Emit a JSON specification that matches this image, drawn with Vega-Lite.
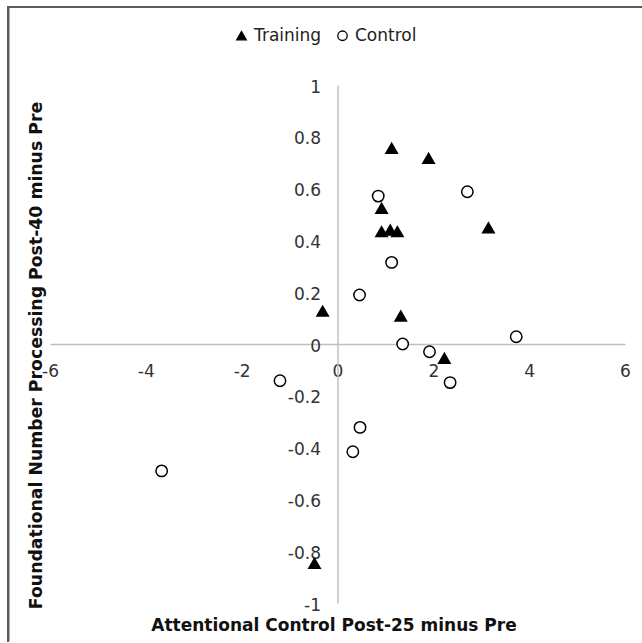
{
  "$schema": "https://vega.github.io/schema/vega-lite/v6.json",
  "autosize": {"type": "none"},
  "padding": {"left": 50, "top": 85, "right": 17, "bottom": 40},
  "width": 575,
  "height": 518,
  "background": "white",
  "config": {"view": {"stroke": null}, "font": "DejaVu Sans"},
  "data": {"values": [
    {"group": "Training", "x": 1.13, "y": 0.756},
    {"group": "Training", "x": 1.90, "y": 0.717},
    {"group": "Training", "x": 0.92, "y": 0.524},
    {"group": "Training", "x": 0.92, "y": 0.434},
    {"group": "Training", "x": 1.10, "y": 0.44},
    {"group": "Training", "x": 1.25, "y": 0.434},
    {"group": "Training", "x": 3.15, "y": 0.449},
    {"group": "Training", "x": -0.31, "y": 0.127},
    {"group": "Training", "x": 1.32, "y": 0.108},
    {"group": "Training", "x": 2.23, "y": -0.055},
    {"group": "Training", "x": -0.48, "y": -0.847},
    {"group": "Control", "x": 0.85, "y": 0.571},
    {"group": "Control", "x": 2.71, "y": 0.588},
    {"group": "Control", "x": 1.13, "y": 0.315},
    {"group": "Control", "x": 0.46, "y": 0.189},
    {"group": "Control", "x": 3.73, "y": 0.028},
    {"group": "Control", "x": 1.36, "y": 0.0},
    {"group": "Control", "x": 1.92, "y": -0.03},
    {"group": "Control", "x": 2.35, "y": -0.149},
    {"group": "Control", "x": -1.20, "y": -0.142},
    {"group": "Control", "x": 0.47, "y": -0.322},
    {"group": "Control", "x": 0.32, "y": -0.416},
    {"group": "Control", "x": -3.67, "y": -0.49}
  ]},
  "layer": [
    {
      "mark": {"type": "rule", "stroke": "#5a5a5a", "strokeWidth": 2, "clip": false},
      "encoding": {
        "x": {"datum": -6.876, "type": "quantitative", "scale": {"domain": [-6, 6], "nice": false, "zero": false}},
        "y": {"datum": 1.305, "type": "quantitative", "scale": {"domain": [-1, 1], "nice": false, "zero": false}},
        "y2": {"datum": -1.15}
      }
    },
    {
      "mark": {"type": "rule", "stroke": "#5a5a5a", "strokeWidth": 2, "clip": false},
      "encoding": {
        "x": {"datum": -6.896, "type": "quantitative"},
        "x2": {"datum": 6.35},
        "y": {"datum": 1.301, "type": "quantitative"}
      }
    },
    {
      "mark": {"type": "point", "stroke": "black", "strokeWidth": 1.5, "opacity": 1, "filled": false},
      "encoding": {
        "x": {
          "field": "x", "type": "quantitative",
          "scale": {"domain": [-6, 6], "nice": false, "zero": false},
          "axis": {
            "title": "Attentional Control Post-25 minus Pre",
            "offset": -259,
            "values": [-6, -4, -2, 0, 2, 4, 6],
            "labelExpr": "toString(datum.value)",
            "grid": false, "ticks": false, "tickSize": 0,
            "domainColor": "#c0c0c0", "domainWidth": 1.5,
            "labelFontSize": 17, "labelColor": "#333333", "labelPadding": 19,
            "labelFlush": false,
            "titleFontSize": 17, "titleFontWeight": "bold", "titleColor": "#111111",
            "titleX": 283.5, "titleY": 281, "titleBaseline": "middle", "titleAnchor": null
          }
        },
        "y": {
          "field": "y", "type": "quantitative",
          "scale": {"domain": [-1, 1], "nice": false, "zero": false},
          "axis": {
            "title": "Foundational Number Processing Post-40 minus Pre",
            "offset": -287.5,
            "values": [-1, -0.8, -0.6, -0.4, -0.2, 0, 0.2, 0.4, 0.6, 0.8, 1],
            "labelExpr": "toString(datum.value)",
            "grid": false, "ticks": false, "tickSize": 0,
            "domainColor": "#c0c0c0", "domainWidth": 1.5,
            "labelFontSize": 17, "labelColor": "#333333", "labelPadding": 17,
            "labelOffset": 2, "labelFlush": false,
            "titleFontSize": 17.3, "titleFontWeight": "bold", "titleColor": "#111111",
            "titleX": -301.5, "titleY": 270, "titleBaseline": "middle", "titleAngle": -90
          }
        },
        "shape": {
          "field": "group", "type": "nominal",
          "scale": {"domain": ["Training", "Control"], "range": ["triangle-up", "circle"]},
          "legend": {
            "title": null, "orient": "none", "direction": "horizontal",
            "legendX": 183, "legendY": -58,
            "labelFontSize": 17, "labelColor": "#222222", "labelOffset": 4,
            "columnPadding": 12, "symbolSize": 90, "symbolStrokeWidth": 1.3
          }
        },
        "fill": {
          "field": "group", "type": "nominal",
          "scale": {"domain": ["Training", "Control"], "range": ["black", "white"]},
          "legend": {
            "title": null, "orient": "none", "direction": "horizontal",
            "legendX": 183, "legendY": -58,
            "labelFontSize": 17, "labelColor": "#222222", "labelOffset": 4,
            "columnPadding": 12, "symbolSize": 90, "symbolStrokeWidth": 1.3
          }
        },
        "size": {"value": 130}
      }
    }
  ]
}
